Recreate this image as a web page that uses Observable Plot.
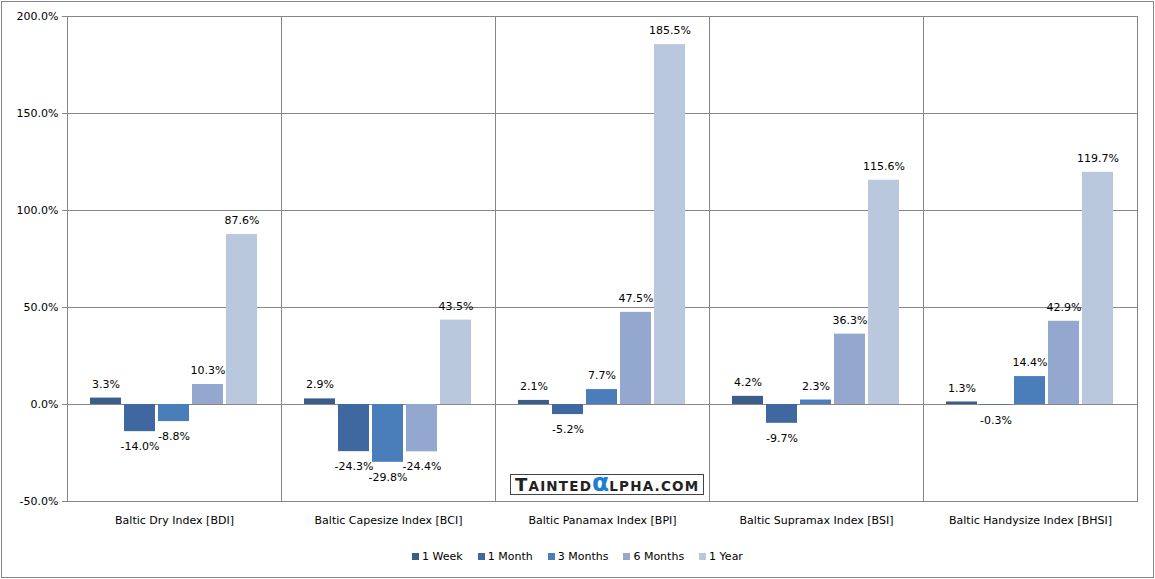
<!DOCTYPE html>
<html>
<head>
<meta charset="utf-8">
<script src="https://cdn.jsdelivr.net/npm/d3@7"></script>
<script src="https://cdn.jsdelivr.net/npm/@observablehq/plot@0.6"></script>
<style>
  html, body { margin: 0; padding: 0; background: #fff; }
  #wrap {
    position: absolute; left: 1px; top: 1px; width: 1151px; height: 575px;
    border: 1px solid #868686; background: #fff; font-family: "DejaVu Sans", sans-serif;
  }
  #chart svg { display: block; }
  .lg-swatches { justify-content: center; margin-top: 3px; font-size: 11px !important; font-family: "DejaVu Sans", sans-serif !important; color: #000; }
  .lg-swatch { margin-right: 15px !important; }
  .lg-swatch:last-child { margin-right: 0 !important; }
  .lg-swatch svg { margin-right: 3px !important; }
  #wm {
    position: absolute; left: 508px; top: 472px; width: 192px; height: 19px;
    border: 1px solid #444; background: #fff; overflow: visible;
  }
  #wm .txt {
    position: absolute; left: 4px; bottom: 1px; white-space: nowrap;
    font-family: "DejaVu Sans", sans-serif; font-weight: bold; color: #222;
    font-size: 13.5px; letter-spacing: 1.2px; line-height: 13px;
  }
  #wm .big { font-size: 18px; }
  #wm .alpha { color: #1a7fd6; font-size: 25px; letter-spacing: 0; }
</style>
</head>
<body>
<div id="wrap">
  <div id="chart"></div>
  <div id="wm"><div class="txt"><span class="big">T</span>AINTED<span class="alpha">α</span>LPHA.COM</div></div>
</div>
<script>
const categories = ["Baltic Dry Index [BDI]", "Baltic Capesize Index [BCI]", "Baltic Panamax Index [BPI]", "Baltic Supramax Index [BSI]", "Baltic Handysize Index [BHSI]"];
const periods = ["1 Week", "1 Month", "3 Months", "6 Months", "1 Year"];
const week   = [3.3, 2.9, 2.1, 4.2, 1.3];
const month  = [-14.0, -24.3, -5.2, -9.7, -0.3];
const months3 = [-8.8, -29.8, 7.7, 2.3, 14.4];
const months6 = [10.3, -24.4, 47.5, 36.3, 42.9];
const year   = [87.6, 43.5, 185.5, 115.6, 119.7];
const yTicks = [-50, 0, 50, 100, 150, 200];
const colors = ["#3b5d89", "#4068a0", "#4a7ebb", "#94a8cf", "#bac8dd"];

const series = [week, month, months3, months6, year];
const rows = [];
categories.forEach((c, i) => {
  periods.forEach((p, j) => rows.push({cat: c, period: p, value: series[j][i]}));
});
const fmt = d => d.value.toFixed(1) + "%";

const plot = Plot.plot({
  width: 1151, height: 535,
  marginLeft: 65, marginTop: 14, marginRight: 16, marginBottom: 36,
  style: {fontFamily: "'DejaVu Sans', sans-serif", fontSize: "11px", color: "#000", background: "transparent"},
  fx: {domain: categories, paddingInner: 0, paddingOuter: 0, label: null},
  x: {domain: periods, paddingInner: 0.088, paddingOuter: 0.69, axis: null},
  y: {domain: [-50, 200], label: null},
  color: {domain: periods, range: colors},
  marks: [
    Plot.ruleY(yTicks, {stroke: "#868686", strokeOpacity: 1}),
    Plot.barY(rows, {fx: "cat", x: "period", y: "value", fill: "period"}),
    Plot.frame({stroke: "#868686", strokeOpacity: 1}),
    Plot.axisY({ticks: yTicks, tickFormat: d => d.toFixed(1) + "%", tickSize: 5, tickPadding: 4, stroke: "#868686", fill: "#000", label: null}),
    Plot.axisFx({anchor: "bottom", tickSize: 0, tickPadding: 15, label: null, fill: "#000"}),
    Plot.text(rows.filter(d => d.value >= 0), {fx: "cat", x: "period", y: "value", text: fmt, dy: -14, fill: "#000"}),
    Plot.text(rows.filter(d => d.value < 0), {fx: "cat", x: "period", y: "value", text: fmt, dy: 15, fill: "#000"})
  ]
});
const chart = document.getElementById("chart");
chart.appendChild(plot);
chart.appendChild(plot.legend("color", {swatchSize: 7, className: "lg"}));
</script>
</body>
</html>
